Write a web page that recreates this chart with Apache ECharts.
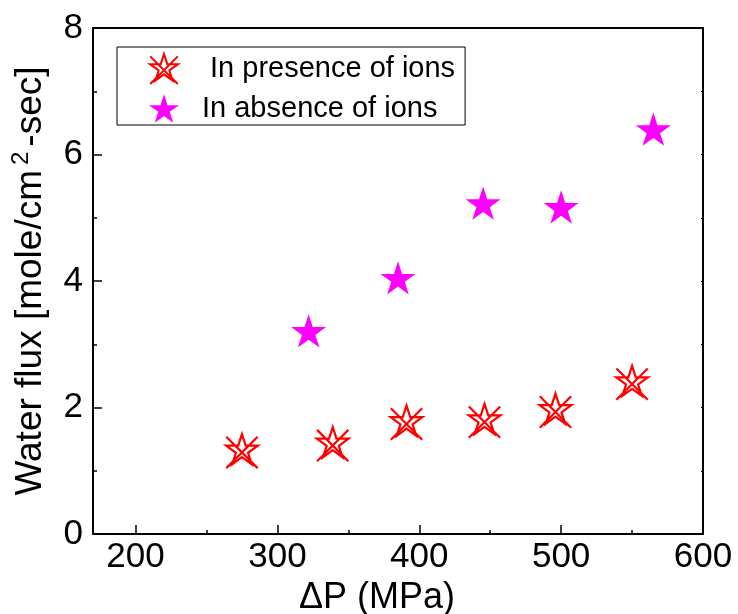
<!DOCTYPE html>
<html>
<head>
<meta charset="utf-8">
<script src="https://cdn.jsdelivr.net/npm/echarts@6/dist/echarts.min.js"></script>
<style>
  html, body { margin: 0; padding: 0; background: #fff; }
  #main { width: 738px; height: 614px; }
</style>
</head>
<body>
<div id="main"></div>
<script>
// data: [ΔP (MPa), water flux]
var presenceIons = [[275, 1.31], [339, 1.42], [391, 1.76], [446, 1.79], [496, 1.95], [550, 2.39]];
var absenceIons = [[322, 3.21], [385, 4.05], [445, 5.23], [500, 5.17], [565, 6.40]];
var seriesNames = ['In presence of ions', 'In absence of ions'];
var xMajorTicks = [200, 300, 400, 500, 600];
var xMinorTicks = [250, 350, 450, 550];

var FONT = "'Liberation Sans', Arial, sans-serif";

// filled 5-point star
var starPath = 'path://M50 0 L61.23 34.55 L97.55 34.55 L68.17 55.9 L79.39 90.45 L50 69.1 L20.61 90.45 L31.83 55.9 L2.45 34.55 L38.77 34.55 Z';
// open star with a cross through it
var starCrossPath = starPath + ' M3 8 L97 102 M97 8 L3 102';

var chart = echarts.init(document.getElementById('main'));

var option = {
  animation: false,
  grid: { left: 93, right: 35, top: 28, bottom: 80, containLabel: false, outerBoundsMode: 'none' },
  legend: {
    orient: 'vertical',
    left: 117,
    top: 47,
    padding: [6, 10, 2, 32],
    itemWidth: 30,
    itemHeight: 30,
    itemGap: 9,
    borderColor: '#000',
    borderWidth: 1,
    data: seriesNames,
    formatter: function (name) {
      return name === seriesNames[0] ? ' ' + name : name;
    },
    textStyle: { fontFamily: FONT, fontSize: 29, color: '#000', padding: [0, 0, 0, 18] }
  },
  xAxis: [
    {
      type: 'value', position: 'bottom', min: 170, max: 600,
      name: 'ΔP (MPa)', nameLocation: 'middle', nameGap: 42,
      nameTextStyle: { fontFamily: FONT, fontSize: 36, color: '#000', padding: [0, 42, 0, 0] },
      axisLine: { show: true, lineStyle: { color: '#000', width: 2 } },
      axisTick: { show: true, inside: true, length: 9, lineStyle: { color: '#000', width: 1.5 }, customValues: xMajorTicks },
      axisLabel: { fontFamily: FONT, fontSize: 35, color: '#000', margin: 6, customValues: xMajorTicks },
      splitLine: { show: false }
    },
    {
      type: 'value', position: 'bottom', min: 170, max: 600,
      axisLine: { show: false },
      axisTick: { show: true, inside: true, length: 4, lineStyle: { color: '#000', width: 1.5 }, customValues: xMinorTicks },
      axisLabel: { show: false },
      splitLine: { show: false }
    },
    {
      type: 'value', position: 'top', min: 170, max: 600,
      axisLine: { show: true, lineStyle: { color: '#000', width: 2 } },
      axisTick: { show: false },
      axisLabel: { show: false },
      splitLine: { show: false }
    }
  ],
  yAxis: [
    {
      type: 'value', position: 'left', min: 0, max: 8, interval: 2,
      name: '{t|Water flux [mole/cm}{s|2}{t|-sec]}', nameLocation: 'middle', nameGap: 40, nameRotate: 90,
      nameTextStyle: {
        rich: {
          t: { fontFamily: FONT, fontSize: 37, color: '#000' },
          s: { fontFamily: FONT, fontSize: 24, color: '#000', padding: [0, 5, 20, 5] }
        }
      },
      axisLine: { show: true, lineStyle: { color: '#000', width: 2 } },
      axisTick: { show: true, inside: true, length: 9, lineStyle: { color: '#000', width: 1.5 } },
      minorTick: { show: true, splitNumber: 2, length: 4, lineStyle: { color: '#000', width: 1.5 } },
      axisLabel: { fontFamily: FONT, fontSize: 35, color: '#000', margin: 10 },
      splitLine: { show: false },
      minorSplitLine: { show: false }
    },
    {
      type: 'value', position: 'right', min: 0, max: 8, interval: 1,
      axisLine: { show: true, lineStyle: { color: '#000', width: 2 } },
      axisTick: { show: true, inside: true, length: 2, lineStyle: { color: '#000', width: 1 } },
      axisLabel: { show: false },
      splitLine: { show: false }
    }
  ],
  series: [
    {
      name: seriesNames[0],
      type: 'scatter',
      xAxisIndex: 0, yAxisIndex: 0,
      data: presenceIons,
      symbol: starCrossPath,
      symbolSize: 34,
      symbolKeepAspect: true,
      itemStyle: { color: 'rgba(255,255,255,0)', borderColor: '#ff0000', borderWidth: 2.2, opacity: 1 }
    },
    {
      name: seriesNames[1],
      type: 'scatter',
      xAxisIndex: 0, yAxisIndex: 0,
      data: absenceIons,
      symbol: starPath,
      symbolSize: 35,
      symbolKeepAspect: true,
      itemStyle: { color: '#ff00ff', opacity: 1 }
    }
  ]
};

chart.setOption(option);
</script>
</body>
</html>
